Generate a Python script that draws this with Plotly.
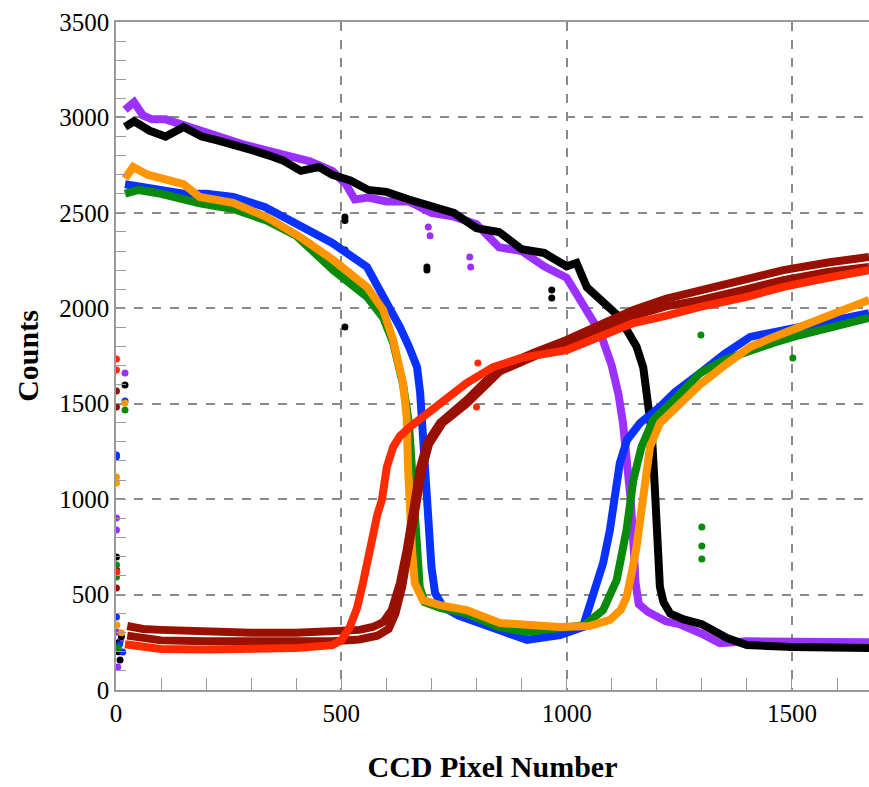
import plotly.graph_objects as go

# ---------------- data ----------------
purple_x = [20, 40, 60, 80, 110, 150, 190, 230, 280, 330, 380, 430, 480, 510, 530, 560, 600, 650, 700, 750, 800, 850, 900, 950, 1000, 1040, 1075, 1100, 1115, 1125, 1135, 1142, 1148, 1153, 1160, 1180, 1220, 1250, 1300, 1340, 1400, 1500, 1600, 1671]
purple_y = [3040, 3080, 3010, 2990, 2990, 2960, 2920, 2900, 2860, 2830, 2800, 2770, 2720, 2650, 2570, 2580, 2560, 2560, 2500, 2480, 2440, 2320, 2300, 2220, 2160, 2000, 1870, 1700, 1550, 1400, 1200, 1000, 780, 560, 450, 410, 360, 345, 295, 245, 255, 250, 250, 250]

black_x = [20, 40, 75, 110, 150, 190, 225, 260, 300, 340, 370, 410, 450, 480, 520, 560, 600, 650, 700, 750, 800, 850, 900, 950, 1000, 1022, 1045, 1075, 1110, 1135, 1155, 1170, 1181, 1189, 1195, 1200, 1207, 1215, 1230, 1260, 1300, 1356, 1400, 1500, 1600, 1671]
black_y = [2950, 2980, 2930, 2900, 2950, 2900, 2880, 2860, 2830, 2800, 2775, 2720, 2740, 2700, 2670, 2620, 2610, 2570, 2530, 2500, 2420, 2400, 2310, 2290, 2220, 2237, 2110, 2050, 1970, 1880, 1800, 1690, 1520, 1346, 1090, 750, 540, 460, 400, 370, 345, 272, 236, 225, 220, 220]

blue_x = [20, 50, 100, 150, 200, 260, 330, 400, 480, 557, 600, 630, 650, 668, 675, 681, 688, 693, 700, 708, 726, 760, 800, 850, 912, 985, 1036, 1058, 1081, 1096, 1107, 1118, 1134, 1163, 1207, 1240, 1296, 1350, 1407, 1460, 1518, 1600, 1671]
blue_y = [2650, 2640, 2620, 2600, 2600, 2583, 2531, 2447, 2342, 2216, 2043, 1902, 1800, 1692, 1556, 1346, 1084, 822, 645, 508, 435, 390, 360, 314, 262, 288, 330, 487, 665, 838, 1011, 1189, 1310, 1399, 1483, 1560, 1660, 1760, 1850, 1880, 1902, 1940, 1975]

green_x = [20, 50, 100, 150, 186, 260, 334, 400, 482, 557, 593, 615, 637, 650, 656, 661, 667, 674, 685, 719, 778, 850, 912, 985, 1040, 1081, 1111, 1133, 1148, 1166, 1192, 1245, 1296, 1350, 1407, 1460, 1518, 1600, 1671]
green_y = [2600, 2620, 2600, 2570, 2550, 2520, 2460, 2380, 2200, 2060, 1950, 1820, 1600, 1400, 1150, 900, 700, 540, 460, 430, 400, 330, 304, 325, 340, 419, 576, 838, 1100, 1273, 1415, 1535, 1660, 1730, 1780, 1820, 1860, 1910, 1950]

orange_x = [20, 38, 70, 113, 150, 186, 260, 334, 408, 482, 557, 593, 615, 637, 645, 648, 652, 657, 663, 681, 719, 778, 852, 985, 1050, 1096, 1120, 1133, 1145, 1155, 1170, 1185, 1207, 1240, 1296, 1350, 1407, 1460, 1518, 1600, 1671]
orange_y = [2680, 2740, 2700, 2672, 2650, 2583, 2552, 2478, 2374, 2253, 2112, 1991, 1834, 1608, 1430, 1168, 906, 733, 560, 471, 445, 419, 351, 330, 335, 367, 420, 487, 620, 749, 1011, 1273, 1399, 1470, 1600, 1700, 1797, 1850, 1902, 1970, 2043]

red_x = [20, 50, 100, 200, 300, 400, 480, 500, 519, 535, 548, 560, 570, 580, 590, 601, 615, 630, 652, 680, 704, 740, 778, 837, 900, 1000, 1075, 1148, 1220, 1296, 1400, 1481, 1580, 1671]
red_y = [240, 230, 215, 212, 215, 220, 235, 260, 330, 430, 560, 700, 822, 920, 995, 1168, 1273, 1330, 1378, 1430, 1483, 1550, 1608, 1692, 1740, 1781, 1850, 1923, 1960, 2007, 2060, 2112, 2160, 2200]

darkred1_x = [25, 60, 100, 200, 300, 400, 480, 540, 570, 593, 612, 630, 645, 660, 675, 690, 719, 778, 852, 930, 1000, 1080, 1148, 1220, 1296, 1400, 1481, 1580, 1671]
darkred1_y = [335, 320, 315, 305, 300, 300, 305, 315, 330, 356, 419, 560, 733, 960, 1168, 1294, 1399, 1519, 1692, 1770, 1834, 1920, 1991, 2050, 2096, 2150, 2200, 2240, 2269]

darkred2_x = [25, 60, 100, 200, 300, 400, 480, 540, 580, 605, 620, 635, 650, 665, 680, 695, 725, 778, 852, 930, 1000, 1080, 1148, 1220, 1296, 1400, 1481, 1580, 1671]
darkred2_y = [285, 270, 260, 255, 252, 252, 255, 265, 285, 320, 400, 540, 720, 950, 1160, 1290, 1400, 1500, 1670, 1750, 1810, 1890, 1960, 2010, 2043, 2100, 2148, 2190, 2216]

# stray points (outliers)
purple_ox = [1, 1, 20, 2, 4, 10, 693, 697, 785, 787]
purple_oy = [901, 838, 1661, 304, 120, 260, 2426, 2380, 2269, 2216]
black_ox = [1, 1, 20, 3, 6, 9, 12, 508, 508, 508, 508, 690, 690, 967, 967]
black_oy = [697, 629, 1598, 246, 200, 157, 280, 2478, 2460, 2305, 1902, 2216, 2200, 2096, 2054]
blue_ox = [1, 1, 20, 1, 15, 8]
blue_oy = [1231, 1222, 1514, 382, 199, 240]
green_ox = [1, 1, 20, 5, 1300, 1300, 1300, 1298, 1502]
green_oy = [655, 592, 1467, 220, 854, 754, 686, 1860, 1740]
orange_ox = [1, 1, 20, 2, 12]
orange_oy = [1116, 1085, 1504, 340, 300]
red_ox = [1, 1, 2, 800, 803]
red_oy = [1734, 1677, 620, 1483, 1713]
darkred_ox = [1, 1, 1]
darkred_oy = [1567, 1483, 534]

series = [
    ("purple", "#9b30ff", purple_x, purple_y, purple_ox, purple_oy),
    ("black", "#000000", black_x, black_y, black_ox, black_oy),
    ("blue", "#0a32ff", blue_x, blue_y, blue_ox, blue_oy),
    ("green", "#0a8a0a", green_x, green_y, green_ox, green_oy),
    ("orange", "#ff9500", orange_x, orange_y, orange_ox, orange_oy),
    ("darkred1", "#990f00", darkred1_x, darkred1_y, darkred_ox, darkred_oy),
    ("darkred2", "#990f00", darkred2_x, darkred2_y, [], []),
    ("red", "#ff2a00", red_x, red_y, red_ox, red_oy),
]

fig = go.Figure()
for name, col, xs, ys, ox, oy in series:
    fig.add_trace(go.Scatter(x=xs, y=ys, mode="lines", name=name,
                             line=dict(color=col, width=8), showlegend=False))
    if ox:
        fig.add_trace(go.Scatter(x=ox, y=oy, mode="markers", name=name + " outliers",
                                 marker=dict(color=col, size=7), showlegend=False))

axis_common = dict(
    showgrid=True, griddash="dash", gridcolor="#8a8a8a", gridwidth=1.5,
    showline=True, linecolor="#9a9a9a", linewidth=1.5,
    zeroline=False,
    ticks="inside", tickcolor="#9a9a9a", tickwidth=1,
    tickfont=dict(family="Liberation Serif", size=25, color="black"),
)

fig.update_xaxes(
    range=[0, 1671], dtick=500, tick0=0, mirror=True, ticklen=12,
    minor=dict(dtick=100, ticks="inside", ticklen=12, tickcolor="#9a9a9a", showgrid=False),
    title=dict(text="<b>CCD Pixel Number</b>", standoff=30,
               font=dict(family="Liberation Serif", size=30, color="black")),
    **axis_common,
)
fig.update_yaxes(
    range=[0, 3500], dtick=500, tick0=0, ticklen=10,
    minor=dict(dtick=100, ticks="inside", ticklen=10, tickcolor="#9a9a9a", showgrid=False),
    title=dict(text="<b>Counts</b>", standoff=12,
               font=dict(family="Liberation Serif", size=30, color="black")),
    **axis_common,
)

fig.update_layout(
    width=869, height=787,
    margin=dict(l=116, r=0, t=22, b=97),
    paper_bgcolor="white", plot_bgcolor="white",
)

fig.write_html("out.html")
